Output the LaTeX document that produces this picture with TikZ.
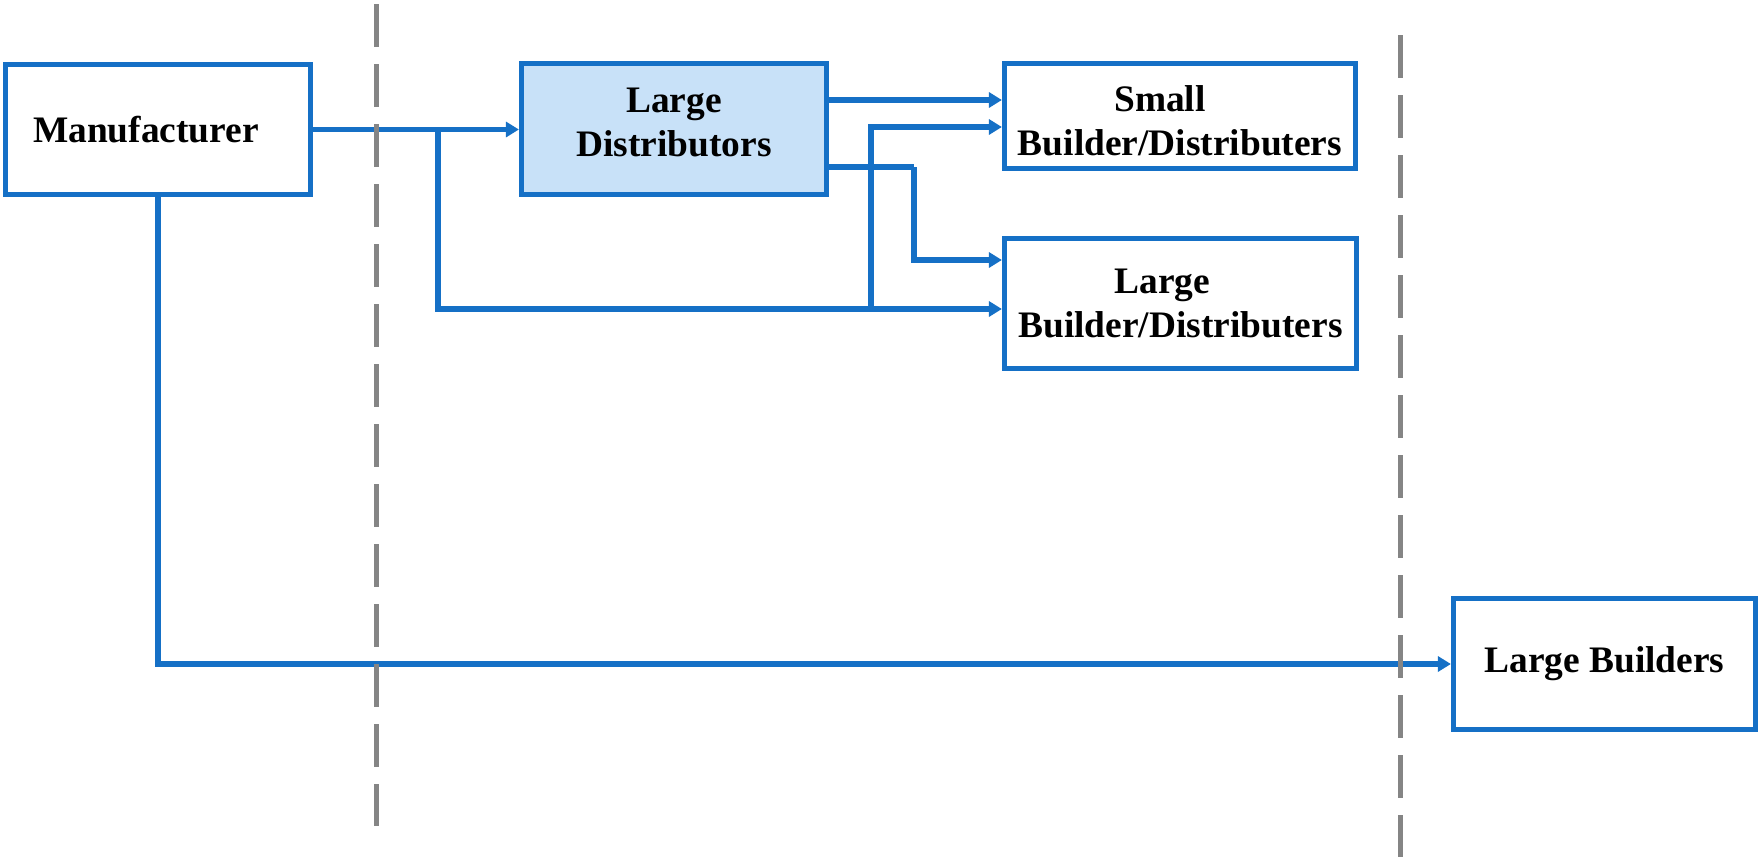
\documentclass[tikz,border=0pt]{standalone}
\usepackage{fontspec}
\setmainfont{Liberation Serif}
\usetikzlibrary{arrows.meta}
\definecolor{boxblue}{HTML}{1570C6}
\definecolor{ldfill}{HTML}{C8E1F8}
\definecolor{divgray}{HTML}{858585}
\newcommand{\shiftedtext}[2]{\raisebox{#1}[\height][\depth]{\begin{tabular}{@{}c@{}}#2\end{tabular}}}
\begin{document}
\begin{tikzpicture}[x=0.5pt,y=-0.5pt,
  box/.style={draw=boxblue, line width=2.6pt, fill=white, font=\bfseries\fontsize{18.7pt}{22pt}\selectfont, align=center, inner sep=0pt},
  conn/.style={draw=boxblue, line width=2.6pt},
  arr/.style={conn, -{Triangle[length=6.5pt,width=7.5pt]}},
  divider/.style={draw=divgray, line width=2.5pt, dash pattern=on 21.5pt off 8.5pt}]
\useasboundingbox (0,0) rectangle (1760,857);
\node[box, minimum width=152.5pt, minimum height=65pt] (man) at (158,129.5) {Manufacturer\hspace*{12pt}};
\node[box, fill=ldfill, minimum width=152.5pt, minimum height=65.5pt] (ld) at (674,129) {\shiftedtext{1.5pt}{Large\\Distributors}};
\node[box, minimum width=175.5pt, minimum height=52.5pt] (sbd) at (1180,116) {\shiftedtext{-4.5pt}{Small\hspace*{20pt}\\Builder/Distributers}};
\node[box, minimum width=176pt, minimum height=65pt] (lbd) at (1180.5,303.5) {Large\hspace*{18pt}\\Builder/Distributers};
\node[box, minimum width=151pt, minimum height=65.5pt] (lb) at (1604.5,664) {Large Builders};
\coordinate (b1) at (438,129);
\coordinate (b2) at (871,309);
\coordinate (b3) at (914,167);
\coordinate (y100) at (0,100);
\coordinate (y127) at (0,127);
\coordinate (y260) at (0,260);
\draw[arr] (man.east) -- (man.east -| ld.west);
\draw[arr] (b1) |- (lbd.west |- b2);
\draw[arr] (b2) |- (sbd.west |- y127);
\draw[arr] (ld.east |- y100) -- (sbd.west |- y100);
\draw[conn] (ld.east |- b3) -- (b3);
\draw[arr] (b3) |- (lbd.west |- y260);
\draw[arr] (man.south) |- (lb.west);
\draw[divider] (376,4) -- (376,826);
\draw[divider] (1400,35) -- (1400,857);
\end{tikzpicture}
\end{document}
